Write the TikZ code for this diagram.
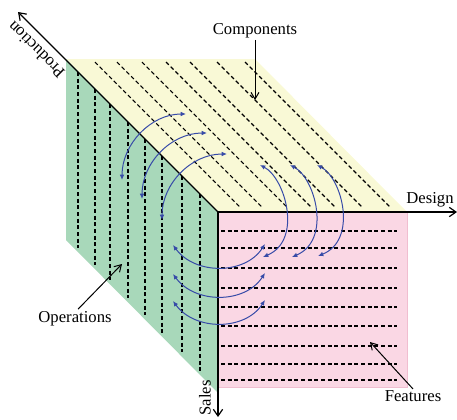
\documentclass[tikz,border=0pt]{standalone}
\usepackage{fontspec}
\setmainfont{Liberation Serif}
\usetikzlibrary{arrows.meta}

\definecolor{topface}{RGB}{249,249,214}
\definecolor{sideface}{RGB}{168,216,186}
\definecolor{frontface}{RGB}{250,215,228}
\definecolor{frontedge}{RGB}{240,190,208}
\definecolor{flowblue}{RGB}{55,75,168}

\tikzset{every picture/.style={line width=0.75pt}}

\begin{document}
\begin{tikzpicture}[x=0.75pt,y=0.75pt,yscale=-1,xscale=1,
  grid/.style={dash pattern=on 3pt off 2pt, line width=0.8pt},
  axis/.style={line width=0.9pt, -{Straight Barb[length=5pt,width=7pt]}},
  pointer/.style={line width=0.75pt, -{Straight Barb[length=5pt,width=6pt]}},
  flow/.style={draw=flowblue, line width=0.75pt, {Latex[length=4pt,width=3.5pt]}-{Latex[length=4pt,width=3.5pt]}},
  lbl/.style={inner sep=0.75pt, font=\fontsize{12.5}{15}\selectfont}]
\useasboundingbox (0,0) rectangle (457,419);

%Shape: Top face
\fill [topface] (66,59) -- (255,59) -- (407,212) -- (218,212) -- cycle ;
%Shape: Side face
\fill [sideface] (66,59) -- (218,212) -- (218,393) -- (66,240) -- cycle ;
%Shape: Front face
\draw [draw=frontedge, line width=0.5pt, fill=frontface] (218,212) rectangle (407,387) ;

%Dashed Lines, side face
\draw [grid] (78,72) -- (78,248) ;
\draw [grid] (95,89) -- (95,265) ;
\draw [grid] (110,104) -- (110,280) ;
\draw [grid] (128,122) -- (128,298) ;
\draw [grid] (145,139) -- (145,315) ;
\draw [grid] (162,156) -- (162,333) ;
\draw [grid] (182,176) -- (182,352) ;
\draw [grid] (200,194) -- (200,371) ;
%Dashed Lines, top face
\draw [grid] (95,62) -- (241,208) ;
\draw [grid] (117,62) -- (263,208) ;
\draw [grid] (142,62) -- (288,208) ;
\draw [grid] (166,62) -- (312,208) ;
\draw [grid] (190,62) -- (336,208) ;
\draw [grid] (217,62) -- (363,208) ;
\draw [grid] (245,62) -- (390,207) ;
%Dashed Lines, front face
\draw [grid] (221,231) -- (397,231) ;
\draw [grid] (221,248) -- (397,248) ;
\draw [grid] (221,268) -- (397,268) ;
\draw [grid] (221,288) -- (397,288) ;
\draw [grid] (221,307) -- (397,307) ;
\draw [grid] (221,326) -- (397,326) ;
\draw [grid] (221,346) -- (397,346) ;
\draw [grid] (221,364) -- (397,364) ;
\draw [grid] (221,380) -- (397,380) ;

%Straight Lines, axes
\coordinate (O) at (218,212) ;
\coordinate (designEnd) at (457,212) ;
\coordinate (salesEnd) at (218,417) ;
\coordinate (prodEnd) at (18,12) ;
\draw [axis] (O) -- (designEnd) ;
\draw [axis] (O) -- (salesEnd) ;
\draw [axis] (O) -- (prodEnd) ;

%Curve Lines, side to top
\draw [flow] (122,180) .. controls (122,144) and (151,114) .. (186,114) ;
\draw [flow] (142,199) .. controls (142,163) and (171,133) .. (207,133) ;
\draw [flow] (162,220) .. controls (162,184) and (191,154) .. (227,154) ;
%Curve Lines, top to front
\draw [flow] (260,165) .. controls (285,178) and (303,240) .. (263,257) ;
\draw [flow] (290,165) .. controls (315,178) and (332,240) .. (292,257) ;
\draw [flow] (317,165) .. controls (342,178) and (358,240) .. (318,256) ;
%Curve Lines, side to front
\draw [flow] (173,245) .. controls (195,275) and (245,275) .. (265,244) ;
\draw [flow] (173,274) .. controls (195,304) and (245,304) .. (265,273) ;
\draw [flow] (173,301) .. controls (195,331) and (245,331) .. (265,300) ;

% Text Node
\draw (255,31) node (comp) [lbl] {Components} ;
% Text Node
\draw (430,200) node (design) [lbl] {Design} ;
% Text Node
\draw (36,50) node (prod) [lbl, rotate=135] {Production} ;
% Text Node
\draw (205,398) node (sales) [lbl, rotate=90] {Sales} ;
% Text Node
\draw (75,319) node (oper) [lbl] {Operations} ;
% Text Node
\draw (413,396) node (feat) [lbl] {Features} ;

%Straight Lines, label pointers
\coordinate (compTip) at (255,100) ;
\coordinate (operTip) at (122,264) ;
\coordinate (featTip) at (370,342) ;
\draw [pointer] (comp) -- (compTip) ;
\draw [pointer] (oper.north) ++(3,-1) -- (operTip) ;
\draw [pointer] (feat.north) -- (featTip) ;

\end{tikzpicture}
\end{document}
